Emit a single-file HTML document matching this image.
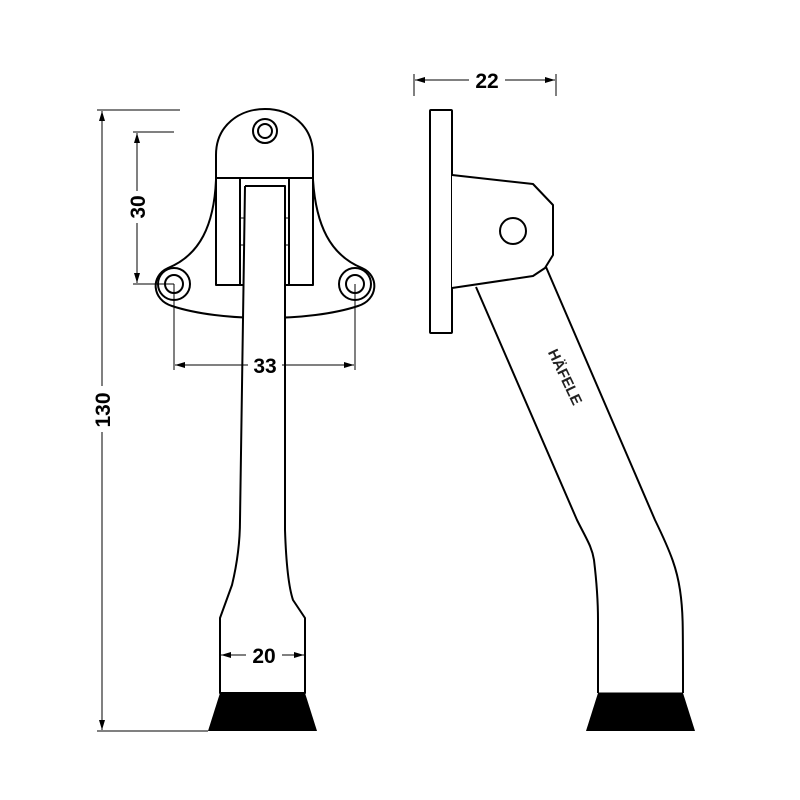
<!DOCTYPE html>
<html><head><meta charset="utf-8"><style>
html,body{margin:0;padding:0;background:#fff}
svg{display:block}
text{font-family:"Liberation Sans",Arial,sans-serif;font-weight:bold;fill:#000}
</style></head><body>
<svg width="800" height="800" viewBox="0 0 800 800" xmlns="http://www.w3.org/2000/svg">
<defs>
<marker id="a" viewBox="0 0 10 6" refX="10" refY="3" markerWidth="10" markerHeight="6" orient="auto-start-reverse" markerUnits="userSpaceOnUse">
<path d="M0,0 L10,3 L0,6 z" fill="#000"/></marker>
</defs>
<g fill="none" stroke="#000" stroke-width="2" stroke-linejoin="round">
<path d="M216,180 C214,225 200,255 168,268 C150,276 152,300 172,306 C220,322 310,322 358,306 C378,300 380,276 362,268 C330,255 316,225 313,180" fill="#fff"/>
<path d="M216,178 L216,155 C216,125 240,109 265,109 C290,109 313,125 313,155 L313,178 Z" fill="#fff"/>
<circle cx="265" cy="131" r="12"/><circle cx="265" cy="131" r="7"/>
<circle cx="174" cy="284" r="16"/><circle cx="174" cy="284" r="9"/>
<circle cx="355" cy="284" r="16"/><circle cx="355" cy="284" r="9"/>
<rect x="216" y="178" width="24" height="107" fill="#fff"/>
<rect x="289" y="178" width="24" height="107" fill="#fff"/>
<rect x="240" y="178" width="49" height="107" fill="#fff"/>
<line x1="240" y1="218" x2="245" y2="218" stroke-width="1"/><line x1="240" y1="245" x2="245" y2="245" stroke-width="1"/>
<line x1="285" y1="218" x2="289" y2="218" stroke-width="1"/><line x1="285" y1="245" x2="289" y2="245" stroke-width="1"/>
<path d="M245,186 L285,186 L285,530 C286,560 288,585 293,600 L305,618 L305,693 L220,693 L220,618 L232,585 C238,560 240,540 240,520 L245,186" fill="#fff"/>
<rect x="430" y="110" width="22" height="223" rx="1" fill="#fff"/>
<path d="M452,175 L533,184 L553,205 L553,255 L545,268 L533,276 L452,288" fill="#fff"/>
<circle cx="513" cy="231" r="13"/>
<path d="M476,287 L577,520 C587,540 592,547 594,560 C597,585 598,600 598,620 L598,693"/>
<path d="M546,267 L655,520 C672,555 677,570 680,590 C683,610 683,620 683,693"/>
<line x1="598" y1="693" x2="683" y2="693" stroke-width="1"/>
</g>
<path d="M220,693 L305,693 L317,731 L208,731 Z" fill="#000"/>
<path d="M598,693 L683,693 L695,731 L586,731 Z" fill="#000"/>
<g stroke="#000" stroke-width="1" fill="none">
<line x1="97" y1="110" x2="180" y2="110"/><line x1="97" y1="731" x2="208" y2="731"/>
<line x1="102" y1="111" x2="102" y2="730" marker-start="url(#a)" marker-end="url(#a)"/>
<line x1="133" y1="132" x2="174" y2="132"/><line x1="133" y1="284" x2="174" y2="284"/>
<line x1="137" y1="133" x2="137" y2="283" marker-start="url(#a)" marker-end="url(#a)"/>
<line x1="174" y1="284" x2="174" y2="370"/><line x1="355" y1="284" x2="355" y2="370"/>
<line x1="175" y1="365" x2="354" y2="365" marker-start="url(#a)" marker-end="url(#a)"/>
<line x1="414" y1="74" x2="414" y2="96"/><line x1="556" y1="74" x2="556" y2="96"/>
<line x1="415" y1="80" x2="555" y2="80" marker-start="url(#a)" marker-end="url(#a)"/>
<line x1="221" y1="655" x2="304" y2="655" marker-start="url(#a)" marker-end="url(#a)"/>
</g>
<g font-size="21">
<rect x="248" y="353" width="34" height="22" fill="#fff"/>
<text x="265" y="373" text-anchor="middle">33</text>
<rect x="469" y="68" width="36" height="22" fill="#fff"/>
<text x="487" y="88" text-anchor="middle">22</text>
<rect x="246" y="644" width="36" height="22" fill="#fff"/>
<text x="264" y="663" text-anchor="middle">20</text>
<rect x="126" y="191" width="22" height="32" fill="#fff"/>
<text transform="translate(145,207) rotate(-90)" text-anchor="middle">30</text>
<rect x="91" y="386" width="22" height="46" fill="#fff"/>
<text transform="translate(110,410) rotate(-90)" text-anchor="middle">130</text>
</g>
<text transform="translate(565,377) rotate(64.5)" text-anchor="middle" font-size="15" dy="5" style="fill:#222">HÄFELE</text>
</svg>
</body></html>
